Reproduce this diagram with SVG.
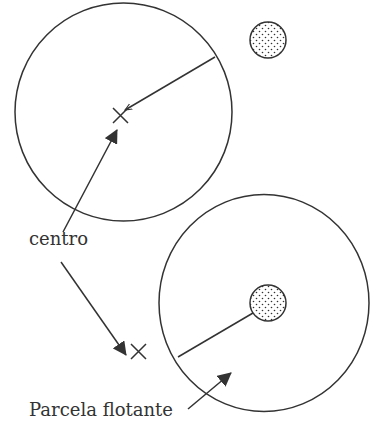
<svg xmlns="http://www.w3.org/2000/svg" width="370" height="421" viewBox="0 0 370 421">
<style>
.ln{stroke:#333;stroke-width:1.5;fill:none}
.lbl{font-family:"DejaVu Serif","Liberation Serif",serif;font-size:19px;fill:#333}
</style>
<defs>
<pattern id="dots" width="6" height="6" patternUnits="userSpaceOnUse">
<circle cx="1.5" cy="1.5" r="0.8" fill="#333"/>
<circle cx="4.5" cy="4.5" r="0.8" fill="#333"/>
</pattern>
<marker id="ah" markerWidth="14" markerHeight="14" refX="13" refY="7" orient="auto" markerUnits="userSpaceOnUse">
<path d="M0,0 L14,7 L0,14 Z" fill="#333"/>
</marker>
<marker id="thin" markerWidth="8" markerHeight="8" refX="7" refY="4" orient="auto" markerUnits="userSpaceOnUse">
<path d="M0,1 L7,4 L0,7" fill="none" stroke="#333" stroke-width="1"/>
</marker>
</defs>
<g id="circle-top">
<ellipse class="ln" cx="123.5" cy="112" rx="108.5" ry="109"/>
<path class="ln" d="M113,108 L128,123 M128,108 L113,123"/>
</g>
<g id="parcel-top">
<circle cx="268" cy="40" r="18" fill="url(#dots)" stroke="#333" stroke-width="1.5"/>
</g>
<g id="circle-bottom">
<ellipse class="ln" cx="264" cy="303" rx="105" ry="108.5"/>
<circle cx="268" cy="303" r="18" fill="url(#dots)" stroke="#333" stroke-width="1.5"/>
</g>
<g id="x-bottom">
<path class="ln" d="M131,344 L146,359 M146,344 L131,359"/>
</g>
<g id="label-centro"><text class="lbl" x="29" y="245" textLength="59" lengthAdjust="spacingAndGlyphs">centro</text></g>
<g id="label-parcela"><text class="lbl" x="29" y="416" textLength="144" lengthAdjust="spacingAndGlyphs">Parcela flotante</text></g>
<g id="connectors">
<line class="ln" x1="215" y1="57" x2="125" y2="110" marker-end="url(#thin)"/>
<line class="ln" x1="63" y1="232" x2="117" y2="130" marker-end="url(#ah)"/>
<line class="ln" x1="61" y1="262" x2="126" y2="355" marker-end="url(#ah)"/>
<line class="ln" x1="253" y1="313" x2="178" y2="357"/>
<line class="ln" x1="188" y1="409" x2="231" y2="373" marker-end="url(#ah)"/>
</g>
</svg>
